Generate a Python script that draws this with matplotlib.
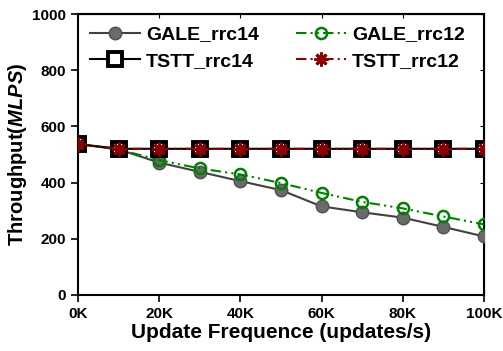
import numpy as np
import matplotlib.pyplot as plt

# Data
x_labels = ["0K", "20K", "40K", "60K", "80K", "100K"]
updates_k = [0, 10, 20, 30, 40, 50, 60, 70, 80, 90, 100]
gale_rrc14 = [537, 518, 471, 438, 405, 373, 315, 294, 275, 242, 208]
gale_rrc12 = [537, 518, 480, 450, 429, 398, 363, 331, 308, 279, 251]
tstt_rrc14 = [537, 520, 520, 520, 520, 520, 520, 520, 520, 520, 520]
tstt_rrc12 = [537, 520, 520, 520, 520, 520, 520, 520, 520, 520, 520]

plt.rcParams['font.family'] = ['Liberation Sans', 'DejaVu Sans']
plt.rcParams['font.weight'] = 'bold'
plt.rcParams['axes.labelweight'] = 'bold'
plt.rcParams['mathtext.fontset'] = 'custom'
plt.rcParams['mathtext.it'] = 'Liberation Sans:italic:bold'
plt.rcParams['mathtext.rm'] = 'Liberation Sans:bold'

fig = plt.figure(figsize=(5.03, 3.51), dpi=100)
ax = fig.add_axes([0.155, 0.16, 0.807, 0.80])

dash_dot_dot = (0, (5, 2, 1, 2, 1, 2))

l1, = ax.plot(updates_k, gale_rrc14, color='#404040', linewidth=1.5, marker='o',
              markersize=9, markerfacecolor='#6a6a6a', markeredgecolor='#505050',
              label='GALE_rrc14', zorder=3)
l2, = ax.plot(updates_k, gale_rrc12, color='#008000', linewidth=1.5, linestyle=dash_dot_dot,
              marker='o', markersize=8, markerfacecolor='none', markeredgecolor='#008000',
              markeredgewidth=1.8, label='GALE_rrc12', zorder=4)
l3, = ax.plot(updates_k, tstt_rrc14, color='black', linewidth=1.5, marker='s',
              markersize=10.5, markerfacecolor='white', markeredgecolor='black',
              markeredgewidth=2.8, label='TSTT_rrc14', zorder=5)
l4, = ax.plot(updates_k, tstt_rrc12, color='#8B0000', linewidth=1.5, linestyle=dash_dot_dot,
              marker=(8, 2, 0), markersize=10, markeredgecolor='#8B0000',
              markeredgewidth=2, label='TSTT_rrc12', zorder=6)

ax.set_xlim(0, 100)
ax.set_ylim(0, 1000)
ax.set_xticks(np.arange(0, 101, 20))
ax.set_xticklabels(x_labels)
ax.set_yticks(np.arange(0, 1001, 200))

ax.tick_params(axis='both', which='major', labelsize=11, direction='out', length=5, width=1.2)
ax.tick_params(top=False, right=False)
for s in ax.spines.values():
    s.set_linewidth(1.5)

# inner ticks on top and right
sec_x = ax.secondary_xaxis('top')
sec_x.set_xticks(np.arange(0, 101, 20))
sec_x.tick_params(direction='in', length=3, labeltop=False)
sec_y = ax.secondary_yaxis('right')
sec_y.set_yticks(np.arange(0, 1001, 200))
sec_y.tick_params(direction='in', length=3, labelright=False)

ax.set_xlabel('Update Frequence (updates/s)', fontsize=15, labelpad=2)
ax.set_ylabel(r'Throughput($\mathit{MLPS}$)', fontsize=14.5, labelpad=2)

# row-major legend order: GALE row on top, TSTT row below
ax.legend([l1, l3, l2, l4], ['GALE_rrc14', 'TSTT_rrc14', 'GALE_rrc12', 'TSTT_rrc12'],
          loc='upper left', ncol=2, frameon=False, fontsize=14,
          bbox_to_anchor=(0.0, 1.0), columnspacing=1.9, handlelength=2.6,
          handletextpad=0.3, labelspacing=0.45, borderaxespad=0.2)

fig.savefig('out.png', dpi=100)
